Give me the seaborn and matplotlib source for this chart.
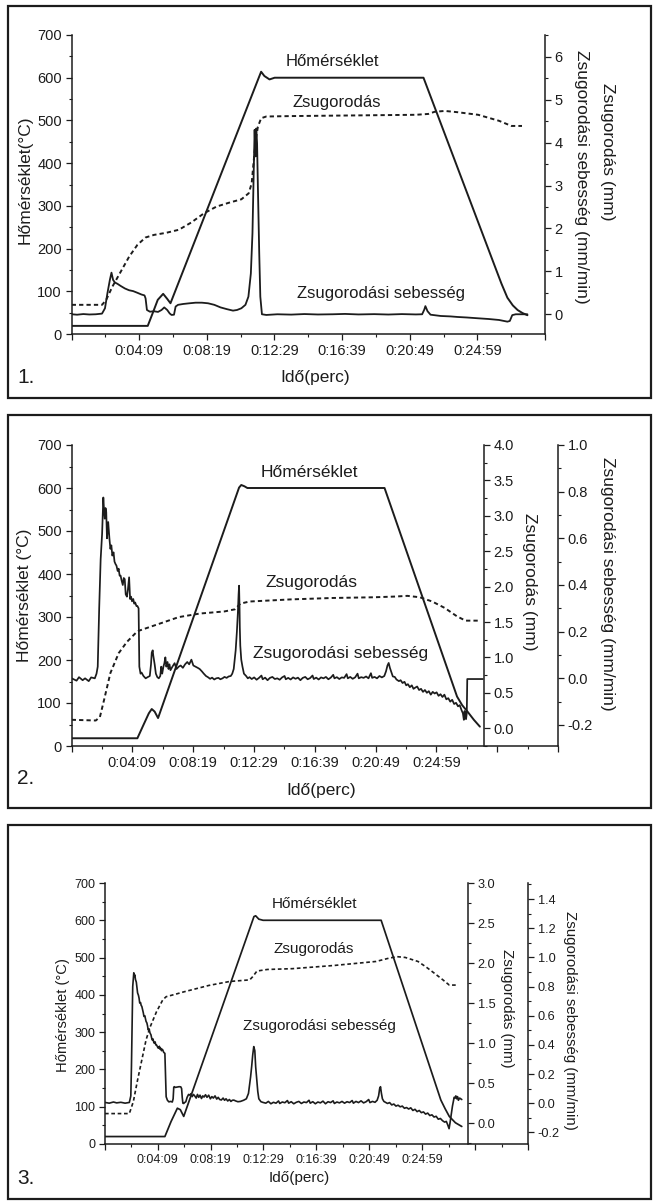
import matplotlib
matplotlib.use("Agg")
import matplotlib.pyplot as plt
import numpy as np
import pandas as pd
import seaborn as sns
from matplotlib.ticker import MultipleLocator
from matplotlib.patches import Rectangle

# ---------------- data (time in s, temperature in °C, shrinkage in mm, rate in mm/min) -------------
time_major_s = [0, 249, 499, 749, 999, 1249, 1499, 1749, 1999]
time_major_labels = ["", "0:04:09", "0:08:19", "0:12:29", "0:16:39", "0:20:49", "0:24:59", "", ""]
time_minor_s = [124, 374, 624, 874, 1124, 1374, 1624, 1874]

# Panel 1
p1_temp = [(0, 19), (281, 19), (300, 50), (318, 80), (338, 94), (352, 83), (365, 72), (690, 598),
           (700, 614), (712, 604), (731, 596), (750, 600), (1300, 600), (1564, 158), (1588, 118),
           (1610, 85), (1630, 67), (1648, 56), (1666, 49), (1684, 44)]
p1_shrink = [(0, 0.22), (112, 0.22), (127, 0.33), (150, 0.64), (181, 0.99), (212, 1.34), (243, 1.62),
             (273, 1.79), (304, 1.85), (350, 1.90), (396, 1.97), (442, 2.14), (488, 2.35), (535, 2.51),
             (581, 2.60), (627, 2.68), (654, 2.82), (665, 3.05), (673, 3.60), (680, 4.06), (688, 4.37),
             (700, 4.57), (719, 4.61), (811, 4.62), (965, 4.63), (1118, 4.64), (1272, 4.65), (1318, 4.67),
             (1341, 4.72), (1379, 4.74), (1426, 4.71), (1502, 4.65), (1579, 4.51), (1625, 4.39), (1664, 4.39)]
p1_rate = [(0, 0.0), (20, -0.01), (43, 0.005), (65, -0.005), (89, 0.0), (112, 0.015), (123, 0.14),
           (132, 0.49), (141, 0.80), (147, 0.97), (153, 0.80), (160, 0.74), (169, 0.71), (181, 0.66),
           (197, 0.60), (212, 0.56), (227, 0.54), (243, 0.50), (258, 0.46), (269, 0.44), (273, 0.37),
           (278, 0.10), (289, 0.06), (304, 0.07), (319, 0.055), (332, 0.10), (342, 0.16), (353, 0.10),
           (362, 0.02), (369, -0.016), (378, -0.01), (384, 0.18), (393, 0.22), (412, 0.24), (435, 0.256),
           (458, 0.27), (481, 0.27), (504, 0.256), (527, 0.22), (550, 0.16), (573, 0.12), (596, 0.085),
           (611, 0.10), (627, 0.14), (642, 0.22), (653, 0.41), (662, 0.95), (668, 1.89), (673, 3.44),
           (676, 4.30), (679, 3.68), (682, 4.33), (685, 3.99), (688, 2.98), (693, 1.42), (697, 0.41),
           (703, 0.0), (719, -0.016), (760, 0.0), (811, -0.008), (860, 0.005), (910, -0.005), (965, 0.0),
           (1010, 0.008), (1060, -0.004), (1118, 0.003), (1170, -0.006), (1220, 0.004), (1272, -0.004),
           (1295, 0.0), (1303, 0.11), (1307, 0.19), (1315, 0.07), (1326, -0.01), (1364, -0.04),
           (1400, -0.05), (1426, -0.063), (1460, -0.075), (1502, -0.094), (1540, -0.11), (1579, -0.133),
           (1610, -0.172), (1619, -0.156), (1628, -0.02), (1641, 0.0), (1684, 0.0)]

# Panel 2
p2_temp = [(0, 18), (270, 18), (295, 49), (317, 76), (329, 86), (341, 80), (355, 65), (688, 601),
           (697, 607), (710, 604), (722, 600), (1286, 600), (1584, 115), (1605, 95), (1627, 80),
           (1653, 61), (1678, 45)]
p2_shrink = [(0, 0.12), (99, 0.11), (116, 0.16), (133, 0.40), (159, 0.78), (193, 1.06), (227, 1.22),
             (270, 1.37), (295, 1.40), (355, 1.47), (440, 1.57), (526, 1.62), (628, 1.65), (671, 1.68),
             (693, 1.76), (731, 1.79), (901, 1.82), (1072, 1.84), (1243, 1.85), (1328, 1.86), (1380, 1.87),
             (1431, 1.85), (1482, 1.79), (1533, 1.70), (1584, 1.58), (1619, 1.52), (1678, 1.52)]
p2_rate = [(0, 0.0), (20, -0.01), (30, 0.005), (45, -0.008), (55, 0.0), (70, -0.012), (80, 0.004), (95, 0.0), (102, 0.02), (107, 0.05),
           (113, 0.30), (119, 0.51), (125, 0.62), (130, 0.775), (133, 0.72), (136, 0.684), (139, 0.73), (142, 0.713), (145, 0.60), (147, 0.63),
           (150, 0.67), (155, 0.60), (159, 0.555), (163, 0.57), (167, 0.526), (172, 0.54), (176, 0.50), (180, 0.49), (184, 0.483), (189, 0.46),
           (193, 0.47), (197, 0.44), (201, 0.44), (205, 0.42), (210, 0.40), (214, 0.43), (218, 0.425), (222, 0.36), (227, 0.35), (231, 0.38),
           (236, 0.433), (240, 0.34), (244, 0.35), (248, 0.33), (253, 0.34), (257, 0.32), (261, 0.325), (266, 0.31), (270, 0.31), (275, 0.30),
           (278, 0.05), (283, 0.02), (287, 0.025), (295, 0.01), (304, 0.0), (312, 0.005), (321, 0.01), (326, 0.06), (329, 0.11), (333, 0.12),
           (335, 0.10), (338, 0.08), (341, 0.06), (346, 0.02), (352, 0.005), (358, 0.0), (364, 0.01), (368, 0.05), (372, 0.02), (377, 0.05),
           (381, 0.065), (385, 0.09), (389, 0.05), (394, 0.07), (398, 0.04), (402, 0.06), (406, 0.035), (414, 0.05), (423, 0.065), (431, 0.04),
           (440, 0.05), (448, 0.055), (457, 0.045), (466, 0.06), (475, 0.07), (483, 0.06), (492, 0.08), (500, 0.055), (509, 0.05), (518, 0.045),
           (526, 0.04), (535, 0.03), (543, 0.02), (552, 0.01), (560, 0.005), (569, -0.002), (577, 0.003), (586, -0.005), (594, 0.0), (603, 0.002),
           (611, -0.004), (620, 0.0), (628, 0.006), (637, 0.002), (645, 0.008), (654, 0.01), (660, 0.02), (666, 0.04), (670, 0.08), (674, 0.12),
           (679, 0.20), (683, 0.28), (686, 0.36), (688, 0.397), (690, 0.30), (691, 0.22), (693, 0.14), (697, 0.08), (702, 0.05), (708, 0.02),
           (717, 0.01), (724, 0.0), (731, 0.005), (740, -0.003), (750, 0.004), (760, -0.006), (770, 0.002), (780, 0.012), (785, -0.004), (795, 0.003),
           (805, -0.008), (815, 0.002), (825, 0.006), (835, -0.003), (845, 0.0), (855, -0.006), (865, 0.004), (875, 0.01), (880, -0.004), (890, 0.002),
           (900, -0.005), (910, 0.004), (920, -0.002), (930, 0.003), (940, -0.008), (950, 0.002), (960, 0.006), (970, -0.004), (980, 0.001), (990, 0.012),
           (995, -0.003), (1005, 0.003), (1015, -0.005), (1025, 0.004), (1035, 0.0), (1045, 0.006), (1055, -0.004), (1065, 0.003), (1075, 0.015), (1080, 0.0),
           (1090, 0.005), (1100, -0.003), (1110, 0.004), (1120, 0.002), (1130, 0.018), (1135, 0.0), (1145, 0.006), (1155, -0.002), (1165, 0.004), (1175, 0.02),
           (1180, 0.0), (1190, 0.005), (1200, 0.002), (1210, 0.008), (1220, 0.0), (1230, 0.022), (1235, 0.002), (1245, 0.006), (1255, 0.0), (1265, 0.01),
           (1275, 0.004), (1285, 0.01), (1292, 0.03), (1298, 0.055), (1303, 0.066), (1308, 0.045), (1313, 0.03), (1320, 0.008), (1328, 0.006), (1335, -0.005),
           (1345, -0.012), (1352, -0.008), (1360, -0.02), (1368, -0.015), (1375, -0.03), (1382, -0.025), (1390, -0.038), (1398, -0.03), (1405, -0.045), (1412, -0.04),
           (1420, -0.035), (1428, -0.05), (1436, -0.045), (1444, -0.058), (1452, -0.05), (1460, -0.062), (1468, -0.055), (1476, -0.07), (1484, -0.058), (1492, -0.065),
           (1500, -0.06), (1508, -0.075), (1516, -0.068), (1524, -0.08), (1532, -0.07), (1540, -0.09), (1548, -0.085), (1556, -0.10), (1564, -0.092), (1572, -0.11),
           (1580, -0.105), (1588, -0.12), (1595, -0.115), (1602, -0.135), (1608, -0.15), (1612, -0.178), (1615, -0.14), (1618, -0.16), (1621, -0.175), (1624, -0.15),
           (1626, -0.003), (1690, -0.003)]

# Panel 3
p3_temp = [(0, 20), (283, 20), (312, 60), (342, 96), (356, 92), (372, 74), (704, 610), (712, 612),
           (727, 603), (747, 600), (1305, 600), (1587, 118), (1607, 95), (1627, 74), (1656, 57), (1686, 47)]
p3_shrink = [(0, 0.12), (115, 0.12), (134, 0.27), (154, 0.54), (174, 0.79), (194, 1.04), (213, 1.20),
             (243, 1.39), (273, 1.54), (289, 1.58), (332, 1.61), (372, 1.64), (431, 1.68), (490, 1.72),
             (589, 1.77), (684, 1.79), (698, 1.83), (718, 1.90), (767, 1.92), (886, 1.93), (1083, 1.97),
             (1281, 2.02), (1340, 2.06), (1380, 2.08), (1419, 2.07), (1479, 2.02), (1518, 1.95),
             (1558, 1.87), (1597, 1.79), (1627, 1.725), (1666, 1.725)]
p3_rate = [(0, 0.005), (20, 0.0), (40, 0.008), (55, 0.002), (75, 0.006), (95, 0.0), (115, 0.005), (122, 0.05), (125, 0.25), (128, 0.55),
           (131, 0.80), (134, 0.86), (136, 0.894), (138, 0.87), (141, 0.88), (144, 0.848), (148, 0.83), (151, 0.79), (154, 0.756), (158, 0.74),
           (161, 0.72), (164, 0.687), (168, 0.69), (171, 0.67), (174, 0.664), (178, 0.64), (181, 0.62), (184, 0.595), (188, 0.60), (191, 0.58),
           (194, 0.561), (198, 0.55), (201, 0.53), (204, 0.503), (208, 0.51), (211, 0.49), (213, 0.48), (217, 0.47), (220, 0.45), (223, 0.434),
           (227, 0.44), (230, 0.42), (233, 0.411), (237, 0.42), (240, 0.40), (243, 0.40), (247, 0.39), (250, 0.38), (253, 0.377), (257, 0.39),
           (260, 0.37), (263, 0.377), (267, 0.36), (270, 0.37), (273, 0.365), (277, 0.35), (280, 0.345), (283, 0.342), (286, 0.20), (289, 0.044),
           (295, 0.02), (302, 0.009), (310, 0.012), (318, 0.008), (322, 0.03), (325, 0.11), (328, 0.113), (332, 0.108), (340, 0.11), (350, 0.113),
           (358, 0.112), (362, 0.10), (365, 0.04), (368, 0.0), (372, -0.002), (377, 0.005), (382, 0.01), (388, 0.04), (395, 0.06), (401, 0.055),
           (406, 0.065), (412, 0.045), (418, 0.06), (424, 0.05), (431, 0.035), (437, 0.06), (443, 0.04), (449, 0.055), (456, 0.032), (462, 0.05),
           (468, 0.042), (475, 0.058), (482, 0.04), (490, 0.055), (498, 0.03), (505, 0.045), (512, 0.035), (520, 0.05), (528, 0.028), (535, 0.04),
           (542, 0.025), (550, 0.022), (558, 0.035), (565, 0.02), (572, 0.03), (580, 0.015), (588, 0.025), (595, 0.012), (602, 0.02), (609, 0.021),
           (618, 0.015), (628, 0.01), (640, 0.012), (655, 0.02), (668, 0.03), (678, 0.067), (688, 0.18), (693, 0.25), (698, 0.33), (703, 0.388),
           (708, 0.36), (712, 0.25), (718, 0.15), (722, 0.08), (727, 0.03), (737, 0.01), (747, 0.005), (760, 0.0), (772, 0.012), (784, -0.004),
           (796, 0.006), (808, 0.0), (820, 0.015), (826, -0.002), (838, 0.008), (850, 0.003), (862, 0.018), (868, 0.0), (880, 0.01), (892, -0.004),
           (904, 0.006), (916, 0.012), (928, -0.002), (940, 0.008), (952, 0.004), (964, 0.02), (970, 0.0), (982, 0.01), (994, -0.004), (1006, 0.008),
           (1018, 0.002), (1030, 0.014), (1042, -0.004), (1054, 0.01), (1066, 0.004), (1078, 0.016), (1084, -0.002), (1096, 0.008), (1108, 0.002), (1120, 0.012),
           (1132, 0.0), (1144, 0.01), (1156, 0.004), (1168, 0.018), (1174, 0.0), (1186, 0.012), (1198, 0.004), (1210, 0.016), (1222, 0.002), (1234, 0.01),
           (1246, 0.025), (1252, 0.004), (1264, 0.012), (1276, 0.006), (1286, 0.02), (1293, 0.05), (1298, 0.10), (1302, 0.113), (1306, 0.07), (1311, 0.03),
           (1318, 0.012), (1326, 0.005), (1335, -0.002), (1345, 0.004), (1355, -0.012), (1365, -0.006), (1375, -0.02), (1385, -0.014), (1395, -0.025), (1405, -0.02),
           (1415, -0.035), (1425, -0.03), (1435, -0.04), (1445, -0.032), (1455, -0.05), (1465, -0.042), (1475, -0.058), (1485, -0.05), (1495, -0.065), (1505, -0.06),
           (1515, -0.075), (1525, -0.068), (1535, -0.085), (1545, -0.08), (1555, -0.095), (1565, -0.09), (1575, -0.11), (1585, -0.105), (1595, -0.12), (1605, -0.13),
           (1613, -0.125), (1620, -0.15), (1626, -0.175), (1630, -0.14), (1634, -0.10), (1638, -0.06), (1642, -0.02), (1646, 0.01), (1650, 0.04), (1654, 0.035),
           (1658, 0.05), (1662, 0.03), (1666, 0.045), (1670, 0.02), (1676, 0.035), (1686, 0.025)]

# ---------------- style ----------------
sns.set_theme(style="ticks")
plt.rcParams["font.family"] = ["Liberation Sans", "DejaVu Sans"]
plt.rcParams["axes.unicode_minus"] = False

INK = "#1c1c1c"
W, H = 654, 1202
fig = plt.figure(figsize=(W / 100, H / 100), dpi=100)
fig.patch.set_facecolor("white")


def px_axes(l, t, r, b):
    return fig.add_axes([l / W, 1 - b / H, (r - l) / W, (b - t) / H])


def draw(ax, pts, dashed=False, lw=1.4):
    df = pd.DataFrame(pts, columns=["t", "v"])
    kw = {"linestyle": (0, (2.2, 1.6))} if dashed else {}
    sns.lineplot(data=df, x="t", y="v", ax=ax, color=INK, linewidth=lw,
                 estimator=None, sort=False, **kw)
    ax.set_xlabel("")
    ax.set_ylabel("")


def style_ticks(ax, fs):
    ax.tick_params(which="major", length=4.5, width=0.9, direction="out", colors=INK, labelsize=fs, pad=2.5)
    ax.tick_params(which="minor", length=2.5, width=0.8, direction="out", colors=INK)
    for s in ax.spines.values():
        s.set_linewidth(1.1)
        s.set_color(INK)


def base_axis(ax, xmax, fs):
    ax.set_xticks(time_major_s, time_major_labels)
    ax.set_xticks(time_minor_s, minor=True)
    ax.set_xlim(0, xmax)
    ax.set_ylim(0, 700)
    ax.yaxis.set_major_locator(MultipleLocator(100))
    ax.yaxis.set_minor_locator(MultipleLocator(50))
    ax.spines["top"].set_visible(False)
    ax.spines["right"].set_visible(False)
    ax.set_facecolor("none")
    style_ticks(ax, fs)


def right_axis(ax, ylim, major, minor, fs, pos=None):
    tw = ax.twinx()
    for s in ["top", "left", "bottom"]:
        tw.spines[s].set_visible(False)
    if pos is not None:
        tw.spines["right"].set_position(("axes", pos))
    tw.set_ylim(*ylim)
    tw.yaxis.set_major_locator(MultipleLocator(major))
    tw.yaxis.set_minor_locator(MultipleLocator(minor))
    style_ticks(tw, fs)
    return tw


def ftext(x, y, s, fs, rot=0, ha="center"):
    fig.text(x / W, 1 - y / H, s, fontsize=fs, rotation=rot, ha=ha, va="center", color=INK)


# ---------------- panel 1 ----------------
ax1 = px_axes(71.7, 35, 545, 334)
base_axis(ax1, 1749, 10.5)
r1 = right_axis(ax1, (-0.46, 6.51), 1, 0.5, 10.5)
r1.yaxis.set_major_formatter(plt.FuncFormatter(lambda v, p: f"{v:.0f}"))
draw(ax1, p1_temp)
draw(r1, p1_shrink, dashed=True)
draw(r1, p1_rate, lw=1.3)
r1.set_ylim(-0.46, 6.51)
ax1.set_xlim(0, 1749)
ax1.text(963, 637, "Hőmérséklet", fontsize=12, ha="center", va="center", color=INK)
ax1.text(978, 543, "Zsugorodás", fontsize=12, ha="center", va="center", color=INK)
ax1.text(1144, 94, "Zsugorodási sebesség", fontsize=12, ha="center", va="center", color=INK)
ftext(25, 180, "Hőmérséklet(°C)", 12.5, rot=90)
ftext(582, 177, "Zsugorodási sebesség (mm/min)", 12.5, rot=270)
ftext(607, 152, "Zsugorodás (mm)", 12.5, rot=270)
ftext(315, 378, "Idő(perc)", 12.5)
ftext(17, 378, "1.", 15, ha="left")

# ---------------- panel 2 ----------------
ax2 = px_axes(71.7, 445, 558, 746)
base_axis(ax2, 1999, 10.5)
r2a = right_axis(ax2, (-0.25, 4.0), 0.5, 0.25, 10.5, pos=(484 - 71.7) / (558 - 71.7))
r2b = right_axis(ax2, (-0.29, 1.0), 0.2, 0.1, 10.5)
r2a.yaxis.set_major_formatter(plt.FuncFormatter(lambda v, p: f"{v:.1f}"))
r2b.yaxis.set_major_formatter(plt.FuncFormatter(lambda v, p: f"{v:.1f}"))
draw(ax2, p2_temp)
draw(r2a, p2_shrink, dashed=True)
draw(r2b, p2_rate, lw=1.25)
r2a.set_ylim(-0.25, 4.0)
r2b.set_ylim(-0.29, 1.0)
ax2.set_xlim(0, 1999)
ax2.text(975, 636, "Hőmérséklet", fontsize=12.5, ha="center", va="center", color=INK)
ax2.text(987, 380, "Zsugorodás", fontsize=12.5, ha="center", va="center", color=INK)
ax2.text(1104, 216, "Zsugorodási sebesség", fontsize=12.5, ha="center", va="center", color=INK)
ftext(25, 595, "Hőmérséklet (°C)", 12.5, rot=90)
ftext(530, 582, "Zsugorodás (mm)", 12.5, rot=270)
ftext(608, 584, "Zsugorodási sebesség (mm/min)", 12.5, rot=270)
ftext(321, 790, "Idő(perc)", 12.5)
ftext(17, 778, "2.", 15, ha="left")

# ---------------- panel 3 ----------------
ax3 = px_axes(105, 883, 528, 1144)
base_axis(ax3, 1999, 9)
r3a = right_axis(ax3, (-0.26, 3.0), 0.5, 0.25, 9.2, pos=(468 - 105) / (528 - 105))
r3b = right_axis(ax3, (-0.28, 1.51), 0.2, 0.1, 9.2)
r3a.yaxis.set_major_formatter(plt.FuncFormatter(lambda v, p: f"{v:.1f}"))
r3b.yaxis.set_major_formatter(plt.FuncFormatter(lambda v, p: f"{v:.1f}"))
draw(ax3, p3_temp, lw=1.25)
draw(r3a, p3_shrink, dashed=True, lw=1.2)
draw(r3b, p3_rate, lw=1.2)
r3a.set_ylim(-0.26, 3.0)
r3b.set_ylim(-0.28, 1.51)
ax3.set_xlim(0, 1999)
ax3.text(989, 643, "Hőmérséklet", fontsize=11, ha="center", va="center", color=INK)
ax3.text(984, 522, "Zsugorodás", fontsize=11, ha="center", va="center", color=INK)
ax3.text(1014, 316, "Zsugorodási sebesség", fontsize=11, ha="center", va="center", color=INK)
ftext(63, 1015, "Hőmérséklet (°C)", 10.6, rot=90)
ftext(507, 1008, "Zsugorodás (mm)", 10.8, rot=270)
ftext(570, 1020, "Zsugorodási sebesség (mm/min)", 10.8, rot=270)
ftext(299, 1178, "Idő(perc)", 11)
ftext(17, 1178, "3.", 15, ha="left")

# ---------------- frames ----------------
for (x0, y0, x1, y1) in [(8, 6, 651, 398), (8, 415, 651, 808), (8, 825, 651, 1199)]:
    fig.add_artist(Rectangle((x0 / W, 1 - y1 / H), (x1 - x0) / W, (y1 - y0) / H,
                             transform=fig.transFigure, fill=False, lw=1.6, ec=INK))

fig.savefig("out.png", dpi=100, facecolor="white")
